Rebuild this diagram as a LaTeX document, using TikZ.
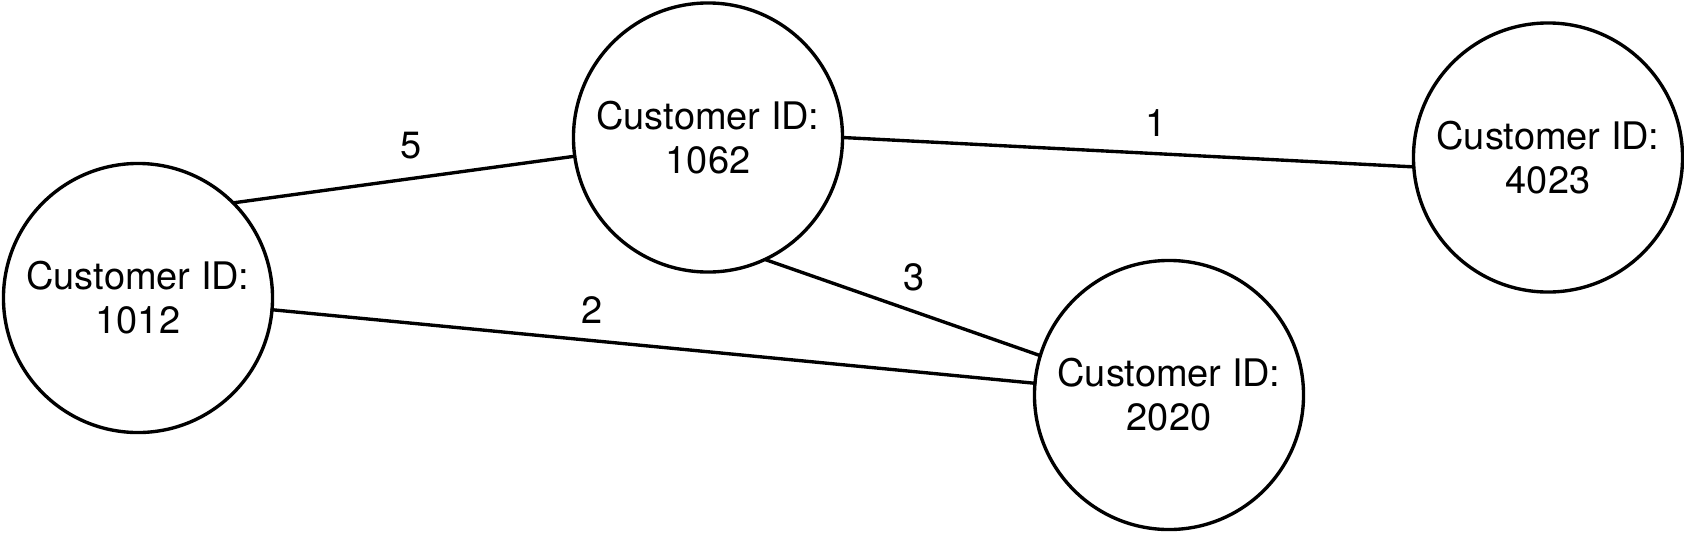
\documentclass[tikz,border=0pt]{standalone}
\usepackage{fontspec}
\setmainfont{TeX Gyre Heros}
\usepackage{tikz}
\usetikzlibrary{calc}
\tikzstyle{every node}=[font=\fontsize{27}{31.2}\selectfont]
\tikzstyle{customer}=[circle,draw,line width=2.4pt,minimum size=6.725cm,inner sep=0pt,outer sep=0pt,align=center]
\tikzstyle{link}=[line width=2.4pt]
\tikzstyle{weight}=[anchor=base,inner sep=0pt]

\begin{document}
\begin{tikzpicture}[line cap=round,line join=round,x=0.025cm,y=-0.025cm]
            \useasboundingbox (0,0) rectangle (1684,534);
            \node[customer] (c1012) at (138,298) {Customer ID:\\1012};
            \node[customer] (c1062) at (708,137.5) {Customer ID:\\1062};
            \node[customer] (c4023) at (1548,157.5) {Customer ID:\\4023};
            \node[customer] (c2020) at (1169,395) {Customer ID:\\2020};
            \draw [link] (c1012.45) -- (c1062.188);
            \draw [link] (c1062.0) -- (c4023.184);
            \draw [link] (c1062.295) -- (c2020.163);
            \draw [link] (c1012.355) -- (c2020.175);
            \node[weight] (w5) at (411,158.3) {5};
            \node[weight] (w1) at (1156,136.7) {1};
            \node[weight] (w3) at (914,290) {3};
            \node[weight] (w2) at (592,323.3) {2};
\end{tikzpicture}
\end{document}
